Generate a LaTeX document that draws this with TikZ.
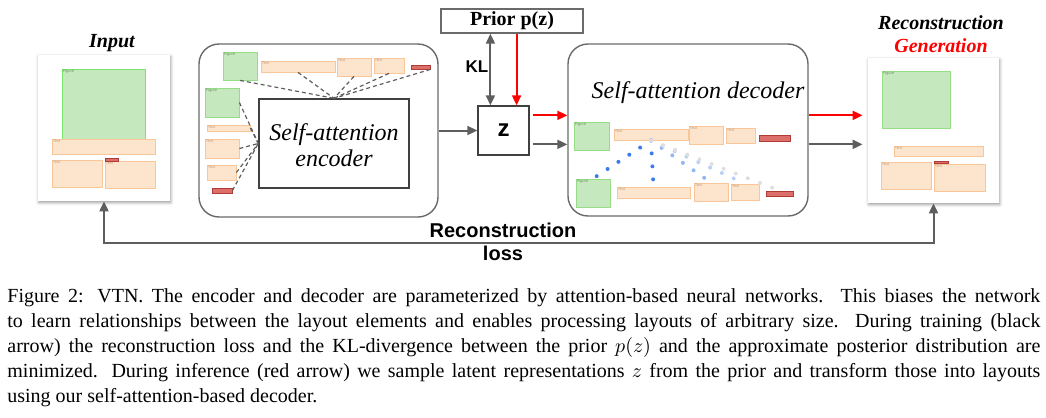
\documentclass[tikz,border=0pt]{standalone}
\usepackage{fontspec}
\setmainfont{Liberation Serif}
\setsansfont{Liberation Sans}
\usepackage{tikz}
\usetikzlibrary{fit,calc,arrows.meta,shadows.blur}
\definecolor{arrgray}{HTML}{5E5E5E}
\definecolor{boxgray}{HTML}{6A6A6A}
\definecolor{figfill}{HTML}{C5E8BF}
\definecolor{figline}{HTML}{97DD88}
\definecolor{txtfill}{HTML}{FDE4CD}
\definecolor{txtline}{HTML}{F8C699}
\definecolor{hdrfill}{HTML}{DD6F6A}
\definecolor{hdrline}{HTML}{B03A36}
\definecolor{dotblue}{HTML}{3C7BE8}
\tikzstyle{tag}=[anchor=north west, inner sep=0.4pt, font=\fontsize{2}{2}\selectfont\sffamily]
\tikzstyle{figel}=[draw=figline, fill=figfill, line width=0.4pt, inner sep=0pt, label={[tag, text=figline!70!black]north west:Figure}]
\tikzstyle{txtel}=[draw=txtline, fill=txtfill, line width=0.4pt, inner sep=0pt, label={[tag, text=txtline!80!black]north west:Text}]
\tikzstyle{hdrel}=[draw=hdrline, fill=hdrfill, line width=0.4pt, inner sep=0pt]
\tikzstyle{page}=[fill=white, inner sep=0pt, blur shadow={shadow xshift=0.4pt, shadow yshift=-0.8pt, shadow blur radius=1.5pt}]
\tikzstyle{panel}=[draw=boxgray, line width=0.7pt, rounded corners=10pt, inner sep=0pt]
\tikzstyle{ttl}=[font=\fontsize{10}{12}\selectfont\bfseries\itshape]
\tikzstyle{garrow}=[draw=arrgray, line width=1pt, -{Triangle[length=5pt,width=4.5pt]}]
\tikzstyle{rarrow}=[draw=red, line width=1pt, -{Triangle[length=5pt,width=4.5pt]}]
\tikzstyle{attdash}=[draw=arrgray, line width=0.6pt, dash pattern=on 2pt off 1.5pt]
\tikzstyle{attdot}=[line width=2pt, line cap=round, dash pattern=on 0pt off 6.5pt]

\begin{document}
\begin{tikzpicture}[x=0.5pt,y=-0.5pt]
            \useasboundingbox (0,0) rectangle (1046,418);
            % Entrada
            \node[ttl] (intitle) at (112,43) {Input};
            \node[page, fit={(38,55) (170,201)}] (inpage) {};
            \node[figel, draw=figline!80!green, fit={(62,69) (145,139)}] (ig) {};
            \node[txtel, fit={(52,139) (155,154)}] (it1) {};
            \node[txtel, fit={(52,160) (102,187)}] (it2) {};
            \node[txtel, fit={(105,161) (155,188)}] (it3) {};
            \node[hdrel, fit={(105,158) (118,161)}] (ih) {};
            % Codificador
            \node[panel, fit={(199,44) (438,217)}] (encpanel) {};
            \node[draw=black!75, line width=0.7pt, inner sep=0pt, fit={(259,99) (409,188)}] (enc) {};
            \node[align=center, font=\fontsize{12}{13}\selectfont\itshape] (enctxt) at (334,145) {Self-attention\\encoder};
            \node[figel, fit={(223,52) (257,80)}] (et1) {};
            \node[txtel, fit={(261,61) (335,72)}] (et2) {};
            \node[txtel, fit={(337,58) (371,76)}] (et3) {};
            \node[txtel, fit={(374,58) (404,73)}] (et4) {};
            \node[hdrel, fit={(411,65) (430,69)}] (et5) {};
            \node[figel, fit={(205,88) (239,117)}] (el1) {};
            \node[txtel, fit={(207,125) (250,131)}] (el2) {};
            \node[txtel, fit={(205,139) (239,158)}] (el3) {};
            \node[txtel, fit={(207,165) (236,180)}] (el4) {};
            \node[hdrel, fit={(212,188) (232,193)}] (el5) {};
            \draw[attdash] (et1.south) -- (enc.north);
            \draw[attdash] (et2.south) -- (enc.north);
            \draw[attdash] (et3.south) -- (enc.north);
            \draw[attdash] (et4.south) -- (enc.north);
            \draw[attdash] (et5.south east) -- (enc.north);
            \draw[attdash] (el1.east) -- (enc.west);
            \draw[attdash] (el2.east) -- (enc.west);
            \draw[attdash] (el3.east) -- (enc.west);
            \draw[attdash] (el4.east) -- (enc.west);
            \draw[attdash] (el5.east) -- (enc.west);
            % Latente
            \node[draw=black!75, line width=0.7pt, inner sep=0pt, fit={(478,106) (529,155)}] (zbox) {};
            \node[font=\fontsize{12}{12}\selectfont\sffamily\bfseries] (ztxt) at (zbox.center) {z};
            \node[draw=boxgray, line width=0.7pt, inner sep=0pt, fit={(441,9) (583,33)}] (prior) {};
            \node[font=\fontsize{10}{12}\selectfont\bfseries] (priortxt) at (prior.center) {Prior p(z)};
            \node[font=\fontsize{8.5}{10}\selectfont\sffamily\bfseries] (kl) at (477,67) {KL};
            \coordinate (klx) at ($(zbox.north)!0.5!(zbox.north west)$);
            \coordinate (rdx) at ($(zbox.north)!0.5!(zbox.north east)$);
            \coordinate (zr) at ($(zbox.east)!0.6!(zbox.north east)$);
            \coordinate (zg) at ($(zbox.east)!0.55!(zbox.south east)$);
            \draw[garrow, {Triangle[length=5pt,width=4.5pt]}-{Triangle[length=5pt,width=4.5pt]}] (prior.south -| klx) -- (klx);
            \draw[rarrow] (prior.south -| rdx) -- (rdx);
            \draw[garrow] (encpanel) -- (zbox);
            % Decodificador
            \node[panel, fit={(568,44) (808,216)}] (decpanel) {};
            \node[font=\fontsize{12}{13}\selectfont\itshape] (dectitle) at (698,93) {Self-attention decoder};
            \node[figel, fit={(574,122) (609,150)}] (dt1) {};
            \node[txtel, fit={(614,129) (688,140)}] (dt2) {};
            \node[txtel, fit={(689,126) (723,144)}] (dt3) {};
            \node[txtel, fit={(726,128) (755,143)}] (dt4) {};
            \node[hdrel, fit={(759,135) (790,141)}] (dt5) {};
            \node[figel, fit={(576,179) (610,207)}] (db1) {};
            \node[txtel, fit={(617,187) (690,198)}] (db2) {};
            \node[txtel, fit={(694,183) (728,201)}] (db3) {};
            \node[txtel, fit={(731,184) (759,200)}] (db4) {};
            \node[hdrel, fit={(766,191) (793,196)}] (db5) {};
            \draw[attdot, dotblue] (dt2.south) -- (db1.north);
            \draw[attdot, dotblue] (dt2.south) -- (db2.north);
            \draw[attdot, dotblue!55] (dt2.south) -- (db3.north);
            \draw[attdot, dotblue!35] (dt2.south) -- (db4.north);
            \draw[attdot, gray!25] (dt2.south) -- (db5.north);
            \draw[rarrow, shorten <=1.5pt] (zr) -- (zr -| decpanel.west);
            \draw[garrow, shorten <=1.5pt] (zg) -- (zg -| decpanel.west);
            % Salida
            \node[ttl] (outtitle) at (941,23) {Reconstruction};
            \node[ttl, text=red] (gentitle) at (941,46) {Generation};
            \node[page, fit={(868,58) (999,203)}] (outpage) {};
            \node[figel, fit={(882,71) (950,128)}] (og) {};
            \node[txtel, fit={(894,146) (983,156)}] (ot1) {};
            \node[txtel, fit={(881,162) (931,189)}] (ot2) {};
            \node[txtel, fit={(934,164) (985,191)}] (ot3) {};
            \node[hdrel, fit={(934,161) (948,163)}] (oh) {};
            \draw[rarrow, shorten >=2.5pt] (zr -| decpanel.east) -- (zr -| outpage.west);
            \draw[garrow, shorten >=2.5pt] (zg -| decpanel.east) -- (zg -| outpage.west);
            % Pérdida
            \coordinate (lossy) at (503,243);
            \draw[garrow, {Triangle[length=5pt,width=4.5pt]}-{Triangle[length=5pt,width=4.5pt]}] (inpage.south) |- (lossy) -| (outpage.south);
            \node[align=center, font=\fontsize{10}{11.5}\selectfont\sffamily\bfseries] (loss) at (503,241.5) {Reconstruction\\loss};
            % Leyenda
            \node[anchor=north west, inner sep=0pt, text width=516.5pt, align=justify, font=\fontsize{10}{12.5}\selectfont] (caption) at (7,288) {Figure 2: VTN. The encoder and decoder are parameterized by attention-based neural networks. This biases the network\linebreak to learn relationships between the layout elements and enables processing layouts of arbitrary size. During training (black\linebreak arrow) the reconstruction loss and the KL-divergence between the prior $p(z)$ and the approximate posterior distribution are\linebreak minimized. During inference (red arrow) we sample latent representations $z$ from the prior and transform those into layouts\linebreak using our self-attention-based decoder.};
        \end{tikzpicture}
\end{document}
